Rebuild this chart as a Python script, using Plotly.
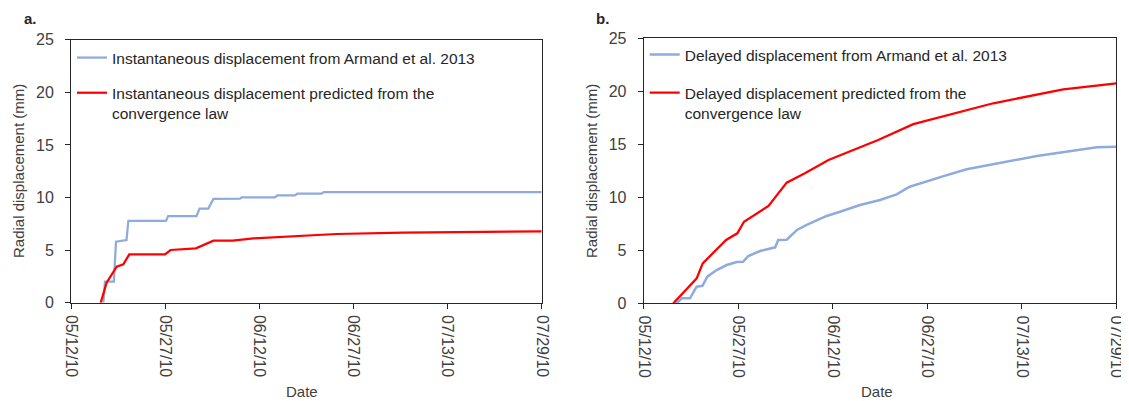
import pandas as pd
import plotly.graph_objects as go

BASE_DATE = "2010-05-12"
AXIS_SPAN_DAYS = 78
TICK_STEP_DAYS = 15.6
tick_labels = ["05/12/10", "05/27/10", "06/12/10", "06/27/10", "07/13/10", "07/29/10"]
y_ticks = [0, 5, 10, 15, 20, 25]

# Panel a: instantaneous displacement (days since 05/12/10, mm)
a_meas_days = [5.36, 5.63, 7.1, 7.46, 9.2, 9.5, 15.74, 16.1, 20.8, 21.3, 22.75, 23.0, 23.6,
               28.0, 28.3, 33.8, 34.2, 37.1, 37.5, 41.5, 41.9, 78.0]
a_meas_mm = [0.0, 2.0, 2.0, 5.8, 5.96, 7.77, 7.77, 8.24, 8.24, 8.94, 8.94, 9.19, 9.86,
             9.9, 10.02, 10.02, 10.2, 10.2, 10.36, 10.36, 10.52, 10.52]
a_pred_days = [4.92, 5.9, 7.57, 8.67, 9.66, 15.58, 16.5, 20.7, 23.6, 26.8, 30.2, 36.8, 44.0,
               55.0, 66.0, 78.0]
a_pred_mm = [0.0, 1.9, 3.42, 3.65, 4.6, 4.6, 5.01, 5.17, 5.9, 5.9, 6.12, 6.34, 6.53,
             6.65, 6.72, 6.78]

# Panel b: delayed displacement
b_meas_days = [5.44, 6.27, 7.64, 8.74, 9.7, 10.5, 12.05, 13.7, 15.35, 16.4, 17.27, 19.2, 21.7,
               22.2, 23.6, 25.3, 26.9, 30.2, 32.4, 35.7, 39.0, 41.75, 43.9, 45.6, 49.5, 53.3,
               56.1, 64.9, 74.8, 78.0]
b_meas_mm = [0.0, 0.47, 0.47, 1.57, 1.65, 2.51, 3.14, 3.61, 3.9, 3.92, 4.46, 4.93, 5.28,
             5.97, 6.0, 6.92, 7.39, 8.24, 8.64, 9.27, 9.75, 10.28, 11.0, 11.32, 12.0, 12.64,
             12.95, 13.9, 14.72, 14.77]
b_pred_days = [4.89, 8.75, 9.74, 13.6, 15.45, 16.55, 20.6, 23.6, 26.6, 30.5, 38.7, 44.5,
               57.7, 69.25, 78.0]
b_pred_mm = [0.0, 2.36, 3.77, 5.97, 6.6, 7.7, 9.18, 11.38, 12.26, 13.52, 15.4, 16.9,
             18.87, 20.19, 20.75]

names_a = ["Instantaneous displacement from Armand et al. 2013",
           "Instantaneous displacement predicted from the<br>convergence law"]
names_b = ["Delayed displacement from Armand et al. 2013",
           "Delayed displacement predicted from the<br>convergence law"]

base = pd.Timestamp(BASE_DATE)


def to_dates(days):
    return base + pd.to_timedelta(days, unit="D")


BLUE = "#8FAADC"
RED = "#FF0000"
FONT = "Arial, Liberation Sans, sans-serif"
OFF = 8  # page body margin
W, H = 1129 - OFF, 401 - OFF

fig = go.Figure()
fig.add_trace(go.Scatter(x=to_dates(a_meas_days), y=a_meas_mm, mode="lines", name=names_a[0],
                         line=dict(color=BLUE, width=2.25), xaxis="x", yaxis="y",
                         legend="legend", legendgroup="a1"))
fig.add_trace(go.Scatter(x=to_dates(a_pred_days), y=a_pred_mm, mode="lines", name=names_a[1],
                         line=dict(color=RED, width=2.25), xaxis="x", yaxis="y",
                         legend="legend", legendgroup="a2"))
fig.add_trace(go.Scatter(x=to_dates(b_meas_days), y=b_meas_mm, mode="lines", name=names_b[0],
                         line=dict(color=BLUE, width=2.5), xaxis="x2", yaxis="y2",
                         legend="legend2", legendgroup="b1"))
fig.add_trace(go.Scatter(x=to_dates(b_pred_days), y=b_pred_mm, mode="lines", name=names_b[1],
                         line=dict(color=RED, width=2.25), xaxis="x2", yaxis="y2",
                         legend="legend2", legendgroup="b2"))

tickvals = [base + pd.Timedelta(days=TICK_STEP_DAYS * i) for i in range(len(tick_labels))]
xrange_ = [base, base + pd.Timedelta(days=AXIS_SPAN_DAYS)]

LINE_C = "#262626"
TICK_FONT = dict(family=FONT, size=16, color="#404040")


def xaxis(domain, anchor):
    return dict(domain=domain, anchor=anchor, type="date", range=xrange_,
                tickmode="array", tickvals=tickvals, ticktext=tick_labels, tickangle=90,
                ticks="outside", ticklen=5, tickcolor=LINE_C, showline=True, linecolor=LINE_C,
                linewidth=1, mirror=True, showgrid=False, zeroline=False, tickfont=TICK_FONT,
                ticklabelstandoff=3, automargin=False)


def yaxis(domain, anchor):
    return dict(domain=domain, anchor=anchor, range=[0, 25], tickmode="array", tickvals=y_ticks,
                ticks="outside", ticklen=5, tickcolor=LINE_C, showline=True, linecolor=LINE_C,
                linewidth=1, mirror=True, showgrid=False, zeroline=False, tickfont=TICK_FONT,
                ticklabelstandoff=8, automargin=False)


# plot boxes in page pixels (left, right, top, bottom)
ax_a = (71, 541.7, 39.7, 302.7)
ax_b = (643.7, 1116.3, 38.3, 303.3)


def px(x):
    return (x - OFF) / W


def py(y):
    return 1 - (y - OFF) / H


def dom(box):
    x0, x1, y0, y1 = box
    return [px(x0), px(x1)], [py(y1), py(y0)]


xa, ya = dom(ax_a)
xb, yb = dom(ax_b)

legend_common = dict(xanchor="left", yanchor="top", bgcolor="rgba(0,0,0,0)", borderwidth=0,
                     font=dict(family=FONT, size=15.5, color="#262626"),
                     valign="top", itemwidth=30)

title_font = dict(family=FONT, size=15, color="#404040")
label_font = dict(family=FONT, size=15, color="#262626")
fig.update_layout(
    width=W, height=H, margin=dict(l=0, r=0, t=0, b=0),
    paper_bgcolor="white", plot_bgcolor="white", showlegend=True,
    xaxis=xaxis(xa, "y"), yaxis=yaxis(ya, "x"),
    xaxis2=xaxis(xb, "y2"), yaxis2=yaxis(yb, "x2"),
    legend=dict(x=px(ax_a[0] + 1), y=py(41), tracegroupgap=12, **legend_common),
    legend2=dict(x=px(ax_b[0] + 1), y=py(38), tracegroupgap=15, **legend_common),
    annotations=[
        dict(text="<b>a.</b>", x=px(30), y=py(8), xref="paper", yref="paper",
             showarrow=False, xanchor="center", yanchor="top", font=label_font),
        dict(text="<b>b.</b>", x=px(602), y=py(8), xref="paper", yref="paper",
             showarrow=False, xanchor="center", yanchor="top", font=label_font),
        dict(text="Radial displacement (mm)", x=px(18), y=py(171), xref="paper",
             yref="paper", showarrow=False, textangle=-90, xanchor="center", yanchor="middle",
             font=title_font),
        dict(text="Radial displacement (mm)", x=px(591), y=py(171), xref="paper",
             yref="paper", showarrow=False, textangle=-90, xanchor="center", yanchor="middle",
             font=title_font),
        dict(text="Date", x=px(302), y=py(391), xref="paper", yref="paper",
             showarrow=False, xanchor="center", yanchor="middle", font=title_font),
        dict(text="Date", x=px(877), y=py(391), xref="paper", yref="paper",
             showarrow=False, xanchor="center", yanchor="middle", font=title_font),
    ],
)

fig.write_html("out.html")
